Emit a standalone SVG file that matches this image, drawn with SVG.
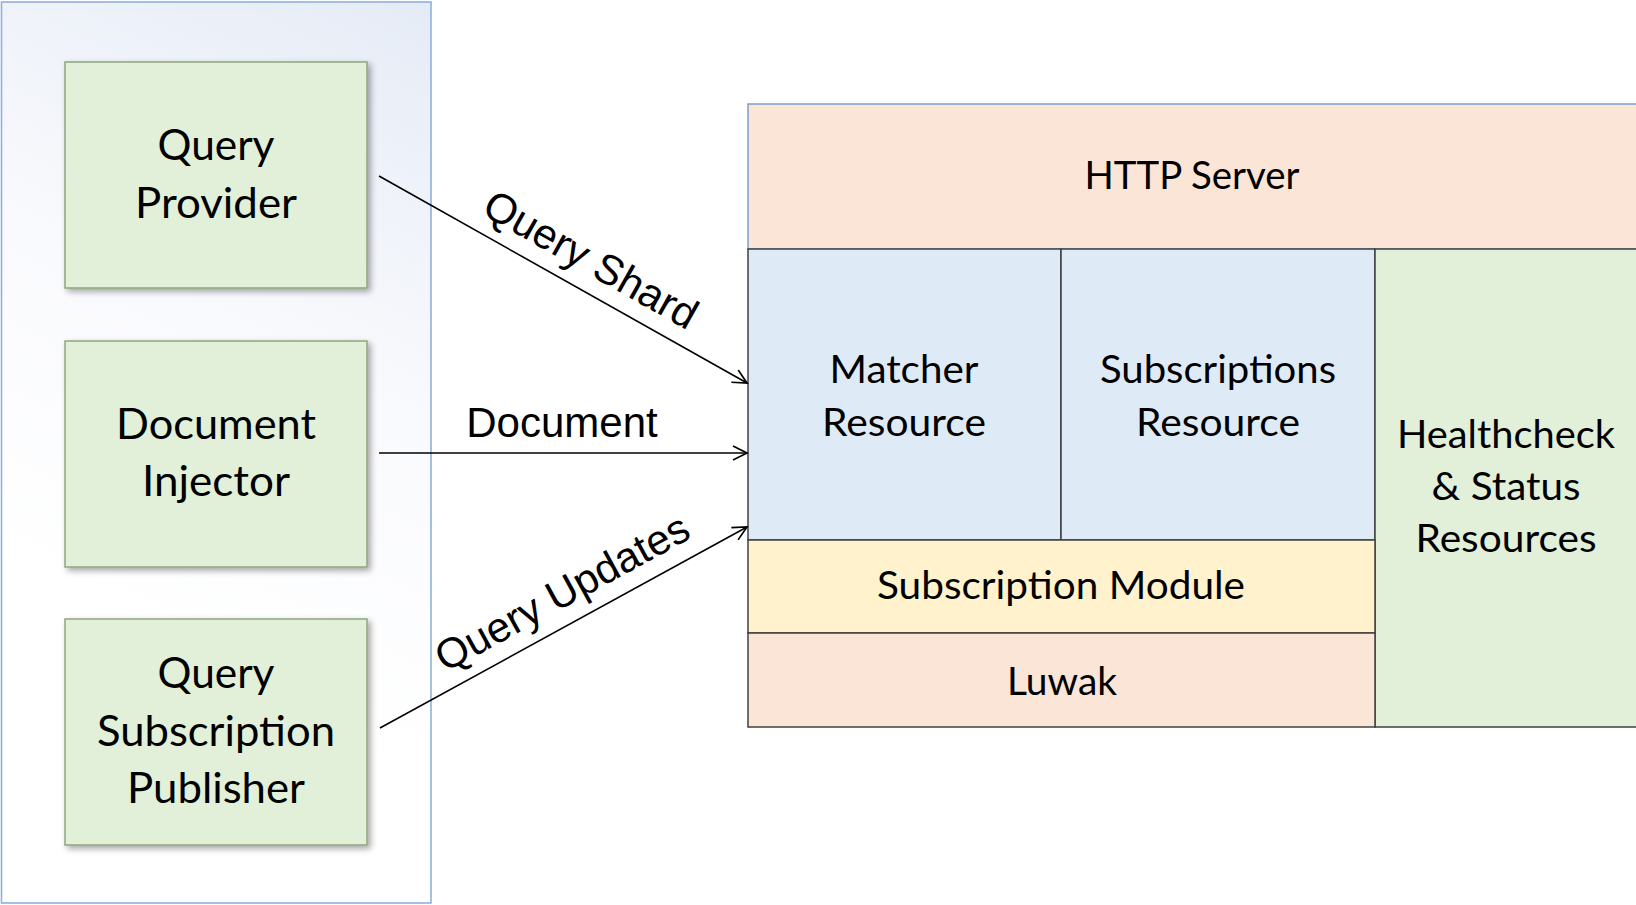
<svg xmlns="http://www.w3.org/2000/svg" width="1636" height="905" viewBox="0 0 1636 905">
  <defs>
    <linearGradient id="panelGrad" gradientUnits="userSpaceOnUse" x1="120" y1="620" x2="431" y2="0">
      <stop offset="0" stop-color="#ffffff"/>
      <stop offset="0.45" stop-color="#f9fafd"/>
      <stop offset="1" stop-color="#e5ebf6"/>
    </linearGradient>
    <filter id="shadow" x="-10%" y="-10%" width="125%" height="125%">
      <feDropShadow dx="3" dy="3" stdDeviation="3" flood-color="#000000" flood-opacity="0.35"/>
    </filter>
    <marker id="arrow" markerUnits="userSpaceOnUse" markerWidth="18" markerHeight="18" viewBox="0 0 18 18" refX="16" refY="9" orient="auto">
      <path d="M2,2 L16,9 L2,16" fill="none" stroke="#000000" stroke-width="1.7"/>
    </marker>
  </defs>
  <style>
    .green { fill: #e2efd9; stroke: #8fa67c; stroke-width: 1.5; }
    .block { stroke: #404040; stroke-width: 1.5; }
    .peach { fill: #fbe5d6; }
    .blue { fill: #deebf7; }
    .yellow { fill: #fff2cc; }
    .lgreen { fill: #e2efd9; }
    .t { font-family: Lato, "Open Sans", sans-serif; fill: #000000; text-anchor: middle; }
    .tl { font-size: 42px; }
    .tr { font-size: 39px; }
    .edge { stroke: #000000; stroke-width: 1.6; fill: none; }
    .elabel { font-family: "Liberation Sans", Arial, sans-serif; font-size: 42px; fill: #000000; text-anchor: middle; }
  </style>

  <rect width="1636" height="905" fill="#ffffff"/>

  <g id="client-panel">
    <rect x="1.5" y="2" width="429.5" height="901" fill="url(#panelGrad)" stroke="#8eb1dc" stroke-width="1.6"/>
  </g>

  <g id="query-provider">
    <rect class="green" x="65" y="62" width="302" height="226" filter="url(#shadow)"/>
    <text class="t tl" x="216" y="160" textLength="117" lengthAdjust="spacingAndGlyphs">Query</text>
    <text class="t tl" x="216" y="218" textLength="162" lengthAdjust="spacingAndGlyphs">Provider</text>
  </g>

  <g id="document-injector">
    <rect class="green" x="65" y="341" width="302" height="226" filter="url(#shadow)"/>
    <text class="t tl" x="216" y="439" textLength="200" lengthAdjust="spacingAndGlyphs">Document</text>
    <text class="t tl" x="216" y="496" textLength="148" lengthAdjust="spacingAndGlyphs">Injector</text>
  </g>

  <g id="query-subscription-publisher">
    <rect class="green" x="65" y="619" width="302" height="226" filter="url(#shadow)"/>
    <text class="t tl" x="216" y="688" textLength="117" lengthAdjust="spacingAndGlyphs">Query</text>
    <text class="t tl" x="216" y="746" textLength="238" lengthAdjust="spacingAndGlyphs">Subscription</text>
    <text class="t tl" x="216" y="803" textLength="178" lengthAdjust="spacingAndGlyphs">Publisher</text>
  </g>

  <g id="http-server">
    <rect class="peach" x="748" y="104" width="892" height="145" stroke="#7f9fcb" stroke-width="1.5"/>
    <text class="t tr" x="1192" y="189" textLength="215" lengthAdjust="spacingAndGlyphs">HTTP Server</text>
  </g>

  <g id="matcher-resource">
    <rect class="block blue" x="748" y="249" width="313" height="291"/>
    <text class="t tr" x="904" y="383" textLength="149" lengthAdjust="spacingAndGlyphs">Matcher</text>
    <text class="t tr" x="904" y="436" textLength="164" lengthAdjust="spacingAndGlyphs">Resource</text>
  </g>

  <g id="subscriptions-resource">
    <rect class="block blue" x="1061" y="249" width="314" height="291"/>
    <text class="t tr" x="1218" y="383" textLength="236" lengthAdjust="spacingAndGlyphs">Subscriptions</text>
    <text class="t tr" x="1218" y="436" textLength="164" lengthAdjust="spacingAndGlyphs">Resource</text>
  </g>

  <g id="healthcheck-status-resources">
    <rect class="block lgreen" x="1375" y="249" width="265" height="478"/>
    <text class="t tr" x="1506" y="448" textLength="218" lengthAdjust="spacingAndGlyphs">Healthcheck</text>
    <text class="t tr" x="1506" y="500" textLength="149" lengthAdjust="spacingAndGlyphs">&amp; Status</text>
    <text class="t tr" x="1506" y="552" textLength="181" lengthAdjust="spacingAndGlyphs">Resources</text>
  </g>

  <g id="subscription-module">
    <rect class="block yellow" x="748" y="540" width="627" height="93"/>
    <text class="t tr" x="1061" y="599" textLength="368" lengthAdjust="spacingAndGlyphs">Subscription Module</text>
  </g>

  <g id="luwak">
    <rect class="block peach" x="748" y="633" width="627" height="94"/>
    <text class="t tr" x="1062" y="695" textLength="110" lengthAdjust="spacingAndGlyphs">Luwak</text>
  </g>

  <g id="connectors">
    <line class="edge" x1="379" y1="176" x2="747" y2="383" marker-end="url(#arrow)"/>
    <line class="edge" x1="379" y1="453" x2="747" y2="453" marker-end="url(#arrow)"/>
    <line class="edge" x1="380" y1="728" x2="747" y2="527" marker-end="url(#arrow)"/>
    <text class="elabel" x="584" y="272" transform="rotate(29.4 584 272)">Query Shard</text>
    <text class="elabel" x="562" y="437">Document</text>
    <text class="elabel" x="569" y="605" transform="rotate(-28.7 569 605)">Query Updates</text>
  </g>
</svg>
